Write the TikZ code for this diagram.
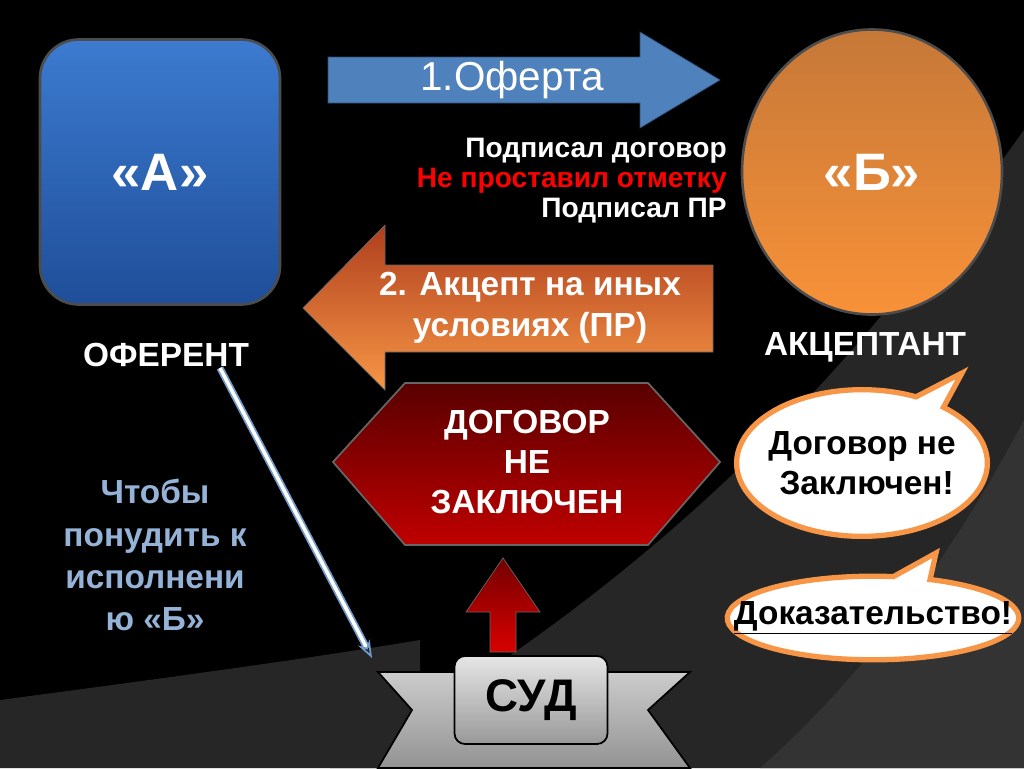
\documentclass[tikz,border=0pt]{standalone}
\usepackage{fontspec}
\setmainfont{Liberation Sans}
\usetikzlibrary{arrows.meta,shapes.geometric,shapes.callouts,positioning}

\definecolor{bgdark}{HTML}{262626}
\definecolor{bgmid}{HTML}{333333}
\definecolor{offblue}{HTML}{4F81BD}
\definecolor{boxtop}{HTML}{3C7BD0}
\definecolor{boxbot}{HTML}{1F4E99}
\definecolor{callorange}{HTML}{F79646}
\definecolor{notetext}{HTML}{95B3D7}

\begin{document}
\begin{tikzpicture}[x=0.02cm,y=-0.02cm,>=Stealth,font=\bfseries]

		\tikzstyle{lbl}=[text=white,align=center]
		\tikzstyle{bubble}=[ellipse callout,draw=callorange,line width=3pt,fill=white,text=black,align=center,font=\bfseries\fontsize{19}{23}\selectfont]

		% background
		\fill[black] (0,0) rectangle (1024,768);
		\useasboundingbox (0,0) rectangle (1024,768);
		\fill[bgdark] (1024,130) .. controls (880,330) and (700,560) .. (330,768) -- (1024,768) -- cycle;
		\fill[bgmid] (1024,420) .. controls (950,560) and (860,680) .. (760,768) -- (1024,768) -- cycle;
		\fill[bgdark] (0,700) .. controls (150,680) and (300,660) .. (420,640) -- (420,768) -- (0,768) -- cycle;

		% parties
		\node (a) [draw=black!70,line width=1.5pt,rounded corners=22pt,minimum width=240*0.02cm,minimum height=265*0.02cm,
			top color=boxtop,bottom color=boxbot,text=white,font=\bfseries\fontsize{30}{34}\selectfont] at (160,172) {«А»};
		\node (b) [ellipse,draw=black!70,line width=1.5pt,minimum width=260*0.02cm,minimum height=285*0.02cm,
			top color=callorange!80!black,bottom color=callorange!80!orange,text=white,font=\bfseries\fontsize{30}{34}\selectfont] at (872,172) {«Б»};
		\node (a_lbl) [lbl,font=\bfseries\fontsize{19}{22}\selectfont] at (166,355) {ОФЕРЕНТ};
		\node (b_lbl) [lbl,font=\bfseries\fontsize{19}{22}\selectfont] at (865,347) {АКЦЕПТАНТ};

		% offer arrow
		\fill[offblue,draw=offblue!60!black] (328,57) -- (640,57) -- (640,32) -- (720,80) -- (640,128) -- (640,103) -- (328,103) -- cycle;
		\node (offer) [lbl,font=\mdseries\fontsize{23}{26}\selectfont] at (512,80) {1.Оферта};
		\node (notes) [align=right,anchor=north east,inner sep=0pt,font=\bfseries\fontsize{16}{17}\selectfont] at (727,138)
			{\textcolor{white}{Подписал договор}\\\textcolor{red}{Не проставил отметку}\\\textcolor{white}{Подписал ПР}};

		% acceptance arrow
		\shade[top color=callorange!60!red!70!black,bottom color=callorange,draw=black!60]
			(713,265) -- (385,265) -- (385,225) -- (303,308) -- (385,390) -- (385,352) -- (713,352) -- cycle;
		\node (accept) [lbl,font=\bfseries\fontsize{19}{23}\selectfont] at (530,308) {2. Акцепт на иных\\условиях (ПР)};

		% result
		\shade[top color=red!35!black,bottom color=red!75!black,draw=black!60,line width=1pt]
			(333,462) -- (405,383) -- (648,383) -- (720,462) -- (648,545) -- (405,545) -- cycle;
		\node (result) [lbl,font=\bfseries\fontsize{19}{23}\selectfont] at (527,462) {ДОГОВОР\\НЕ\\ЗАКЛЮЧЕН};

		% court
		\shade[top color=red!45!black,bottom color=red!85!black,draw=black!60]
			(503,558) -- (540,612) -- (516,612) -- (516,652) -- (490,652) -- (490,612) -- (466,612) -- cycle;
		\shade[top color=gray!40,bottom color=gray!85!white,draw=black,line width=1pt]
			(378,672) -- (690,672) -- (648,710) -- (690,768) -- (378,768) -- (412,710) -- cycle;
		\node (court) [draw=black,line width=1pt,rounded corners=6pt,top color=gray!20,bottom color=gray!80,
			minimum width=153*0.02cm,minimum height=88*0.02cm,font=\bfseries\fontsize{26}{30}\selectfont] at (531,700) {СУД};
		\coordinate (n_src) at (220,368);
		\coordinate (n_dst) at (372,658);
		\draw[double=white,draw=offblue!80!white,double distance=2pt,line width=1pt,-{Stealth[length=10pt,open]}] (n_src) -- (n_dst);
		\node (note) [text=notetext,align=center,font=\bfseries\fontsize{19}{24}\selectfont] at (155,555) {Чтобы\\понудить к\\исполнени\\ю «Б»};

		% replies
		\node (reply) [bubble,inner xsep=-5*0.02cm,inner ysep=20*0.02cm,callout absolute pointer={(962,373)}] at (862,463)
			{Договор не\\\ Заключен!};
		\node (proof) [bubble,inner xsep=-36*0.02cm,inner ysep=13*0.02cm,callout absolute pointer={(936,553)}] at (873,618)
			{\underline{Доказательство!}};
		\end{tikzpicture}
\end{document}
